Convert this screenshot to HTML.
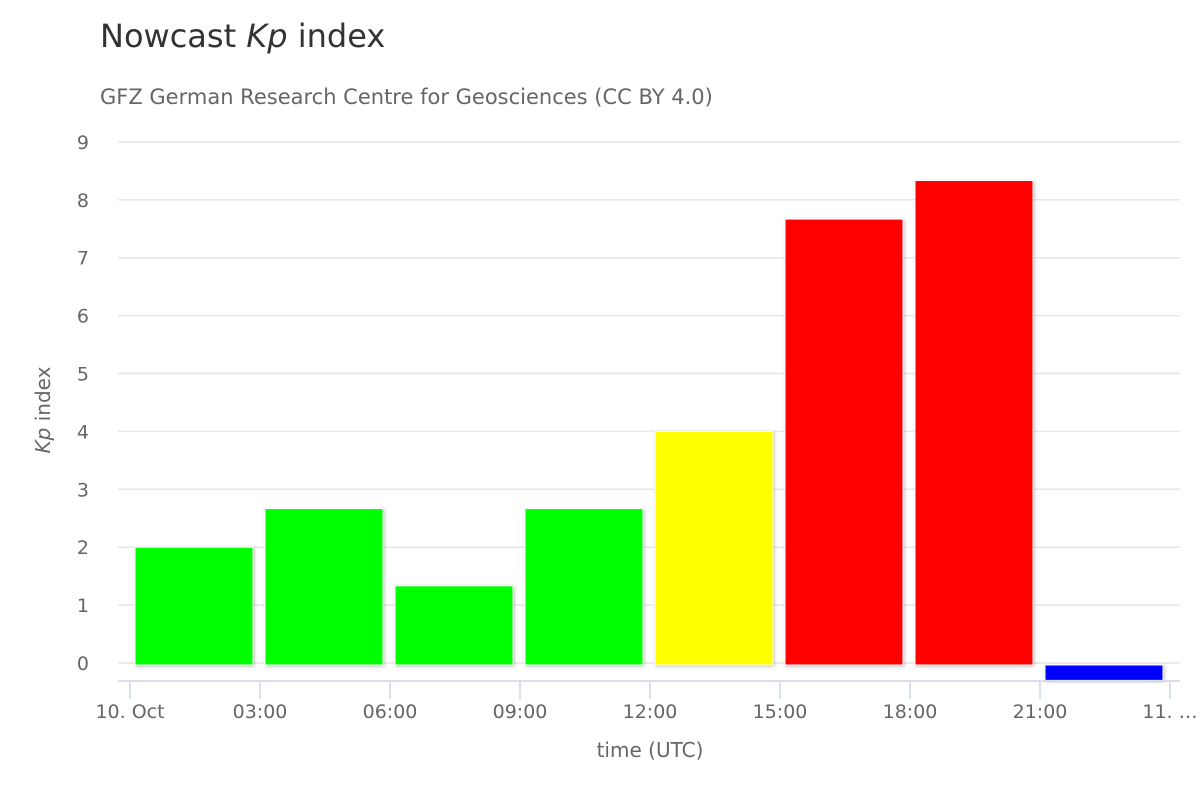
<!DOCTYPE html>
<html><head><meta charset="utf-8"><style>
body{margin:0;background:#fff;}
svg text{font-family:"DejaVu Sans","Liberation Sans",sans-serif;}
</style></head><body>
<svg width="1200" height="800" xmlns="http://www.w3.org/2000/svg">
<defs><filter id="sh" x="-10%" y="-10%" width="130%" height="130%"><feDropShadow dx="1" dy="1" stdDeviation="1.5" flood-color="#000" flood-opacity="0.25"/></filter></defs>
<text x="100" y="47" font-size="32" fill="#333">Nowcast <tspan font-style="italic">Kp</tspan> index</text>
<text x="100" y="104" font-size="21" fill="#666">GFZ German Research Centre for Geosciences (CC BY 4.0)</text>
<g id="grid"></g>
<g id="ylabels"></g>
<g id="bars"></g>
<line x1="118" y1="681" x2="1180" y2="681" stroke="#ccd6eb" stroke-width="1.5"/>
<g id="xticks"></g>
<text x="650" y="757" font-size="20" fill="#666" text-anchor="middle">time (UTC)</text>
<text transform="translate(50,410) rotate(-90)" font-size="20" fill="#666" text-anchor="middle"><tspan font-style="italic">Kp</tspan> index</text>
</svg>
<script>
const values=[2,2.667,1.333,2.667,4,7.667,8.333,-0.3];
const colors=["#00ff00","#00ff00","#00ff00","#00ff00","#ffff00","#ff0000","#ff0000","#0000ff"];
const xLabels=["10. Oct","03:00","06:00","09:00","12:00","15:00","18:00","21:00","11. …"];
const yTicks=[0,1,2,3,4,5,6,7,8,9];
const NS="http://www.w3.org/2000/svg";
const y=v=>663-v*57.9;
const x=i=>130+i*130;
function mk(t,a,p){const e=document.createElementNS(NS,t);for(const k in a)e.setAttribute(k,a[k]);document.getElementById(p).appendChild(e);return e;}
yTicks.forEach(t=>{
  const l=mk('line',{x1:118,x2:1180,y1:y(t),y2:y(t),stroke:'#e6e6e6','stroke-width':1.5},'grid');
  
  
  const tx=mk('text',{x:89,y:y(t)+7,'font-size':19,fill:'#666','text-anchor':'end'},'ylabels');
  tx.textContent=t;
  
  
});
xLabels.forEach((s,i)=>{
  const l=mk('line',{x1:x(i),x2:x(i),y1:681,y2:699,stroke:'#ccd6eb','stroke-width':1.5},'xticks');
  
  
  const tx=mk('text',{x:x(i),y:718,'font-size':19,fill:'#666','text-anchor':'middle'},'xticks');
  tx.textContent=s;
  
  
});
values.forEach((v,i)=>{
  const top=Math.min(y(v),665),bot=Math.max(y(v),665);
  const r=mk('rect',{x:x(i)+5,y:top,width:118,height:bot-top,fill:colors[i],stroke:'#fff','stroke-width':1,filter:'url(#sh)'},'bars');
  
  
});
</script>
</body></html>
